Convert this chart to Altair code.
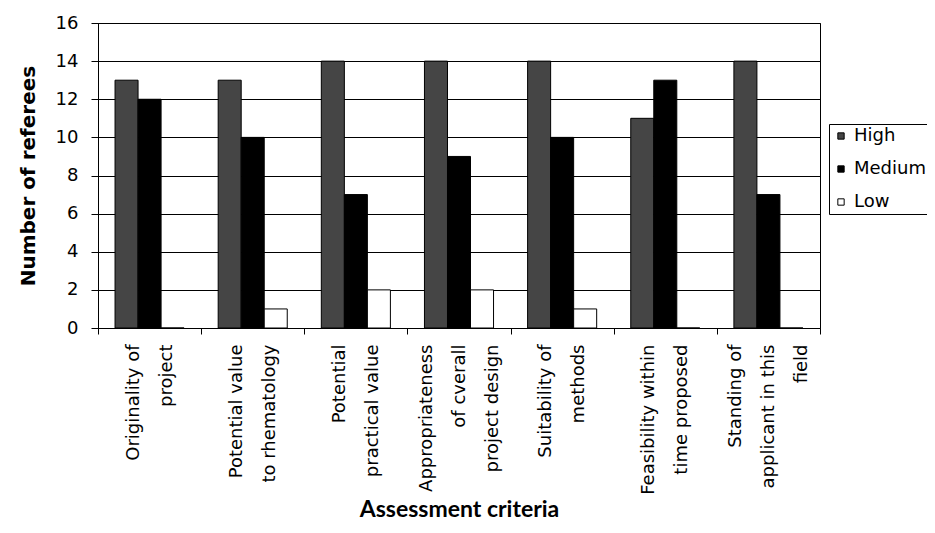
import altair as alt
import pandas as pd

label_lines = [
    ["Originality of", "project"],
    ["Potential value", "to rhematology"],
    ["Potential", "practical value"],
    ["Appropriateness", "of cverall", "project design"],
    ["Suitability of", "methods"],
    ["Feasibility within", "time proposed"],
    ["Standing of", "applicant in this", "field"],
]
criteria = ["|".join(l) for l in label_lines]
levels = ["High", "Medium", "Low"]
high = [13, 13, 14, 14, 14, 11, 14]
medium = [12, 10, 7, 9, 10, 13, 7]
low = [0, 1, 2, 2, 1, 0, 0]
y_ticks = [0, 2, 4, 6, 8, 10, 12, 14, 16]

rows = []
for i, c in enumerate(criteria):
    for lev, vals in zip(levels, [high, medium, low]):
        rows.append({"criterion": c, "level": lev, "value": vals[i]})
df = pd.DataFrame(rows)

FONT = "DejaVu Sans"
LH = 33

chart = alt.Chart(df).mark_bar(stroke="black", strokeWidth=1).encode(
    x=alt.X("criterion:N", sort=criteria,
            scale=alt.Scale(paddingInner=0, paddingOuter=0),
            axis=alt.Axis(title="Assessment criteria", labelAngle=270,
                          labelExpr="datum.value ? split(datum.value, '|') : ''",
                          labelLineHeight=LH, labelFontSize=18,
                          labelOffset={"condition": {
                              "test": "datum.value && length(split(datum.value, '|')) == 3",
                              "value": -LH},
                              "value": -LH / 2},
                          labelPadding=10, tickSize=6, tickBand="extent",
                          titleFont="Lato", titleFontSize=23,
                          titleFontWeight="bold",
                          titlePadding=4, labelLimit=300)),
    xOffset=alt.XOffset("level:N", sort=levels,
                        scale=alt.Scale(paddingInner=0, paddingOuter=0.74)),
    y=alt.Y("value:Q",
            scale=alt.Scale(domain=[0, 16], nice=False),
            axis=alt.Axis(title="Number of referees", values=y_ticks,
                          labelFontSize=18, tickSize=7, labelPadding=13,
                          titleFontSize=20, titleFontWeight="bold",
                          titlePadding=17, grid=True, gridColor="black",
                          gridWidth=1, gridOpacity=1)),
    fill=alt.Fill("level:N", sort=levels,
                  scale=alt.Scale(domain=levels,
                                  range=["#454545", "#000000", "#ffffff"]),
                  legend=alt.Legend(title=None, orient="none",
                                    legendX=731, legendY=101,
                                    strokeColor="black", fillColor="white",
                                    padding=3, symbolType="square",
                                    symbolSize=40, symbolStrokeColor="black",
                                    symbolStrokeWidth=1, labelFontSize=18,
                                    rowPadding=15, labelOffset=4,
                                    labelLimit=300)),
).properties(
    width=722, height=305,
    autosize=alt.AutoSizeParams(type="none"),
    padding={"left": 90, "top": 15, "right": 107, "bottom": 197},
).configure_view(
    stroke="black", strokeWidth=1
).configure_axis(
    labelFont=FONT, titleFont=FONT, labelColor="black", titleColor="black",
    domainColor="black", tickColor="black", domainWidth=1
).configure_legend(
    labelFont=FONT, labelColor="black"
)

chart.save("out.html", embed_options={"renderer": "svg", "actions": False})
